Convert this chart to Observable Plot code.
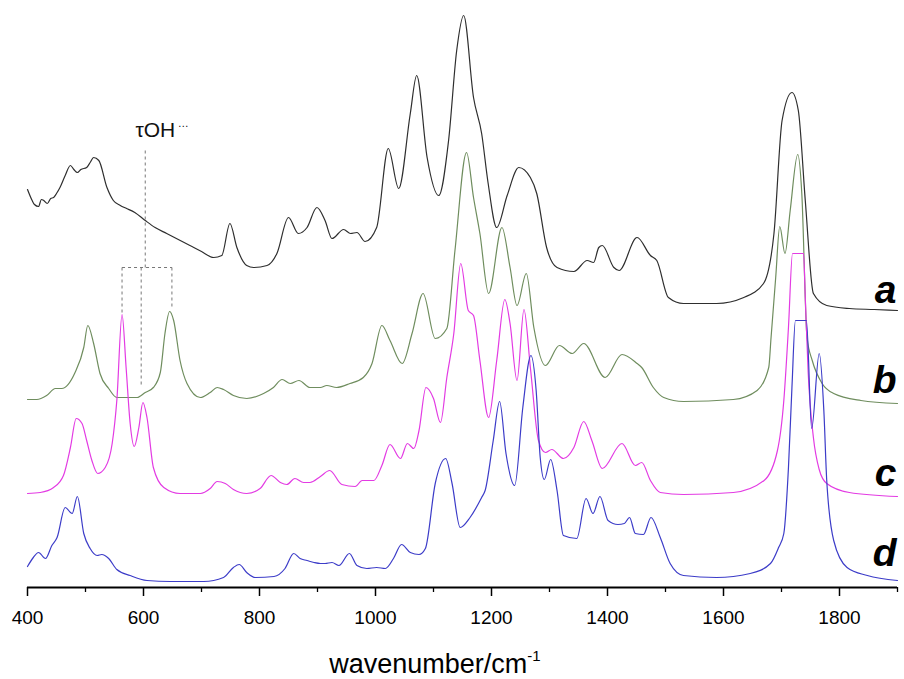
<!DOCTYPE html>
<html><head><meta charset="utf-8">
<script src="https://cdn.jsdelivr.net/npm/d3@7"></script>
<script src="https://cdn.jsdelivr.net/npm/@observablehq/plot@0.6"></script>
<style>body{margin:0;background:#fff;} #chart{width:904px;height:679px;}</style>
</head><body><div id="chart"></div>
<script>
// Wavenumber (cm-1) and stacked intensity (arb. units)
const specA = [[400,398],[408,387],[412,383],[419,381],[424,388],[428,387],[434,384],[440,389],[445,390],[450,394],[456,400],[465,412],[474,422],[480,418],[486,415],[492,418],[502,420],[508,425],[514,430],[523,427],[537,400],[548,387],[560,382],[571,379],[585,375],[603,367],[620,360],[640,354],[660,348],[680,342],[700,336],[721,330],[735,332],[749,364],[761,340],[778,322],[790,320],[813,322],[830,334],[850,370],[867,354],[882,360],[899,380],[913,367],[925,349],[945,358],[957,354],[968,355],[982,346],[1002,360],[1022,439],[1040,399],[1060,474],[1071,512],[1089,430],[1109,392],[1126,447],[1140,537],[1152,572],[1169,490],[1183,454],[1194,405],[1209,360],[1227,392],[1247,420],[1267,410],[1278,394],[1295,340],[1313,320],[1342,316],[1365,327],[1376,325],[1385,340],[1391,342],[1411,320],[1420,317],[1451,350],[1474,332],[1485,327],[1505,290],[1531,284],[1588,284],[1635,290],[1669,304],[1687,354],[1701,467],[1718,495],[1729,477],[1741,387],[1755,294],[1778,282],[1817,279],[1860,278],[1900,277]];
const specB = [[400,188],[416,188],[433,192],[448,199],[459,199],[482,215],[497,240],[504,262],[514,244],[525,214],[540,199],[554,190],[577,190],[589,190],[603,195],[617,200],[629,215],[637,254],[645,276],[652,267],[663,227],[675,204],[698,190],[715,195],[727,200],[738,198],[755,192],[778,189],[807,194],[824,200],[839,208],[853,204],[868,207],[887,200],[905,200],[916,202],[933,200],[956,204],[979,210],[994,224],[1011,262],[1025,247],[1046,224],[1063,254],[1082,294],[1103,249],[1123,259],[1137,337],[1157,435],[1169,390],[1180,354],[1195,294],[1218,360],[1232,320],[1244,282],[1260,314],[1273,260],[1293,222],[1317,242],[1339,234],[1359,244],[1396,210],[1425,233],[1451,224],[1459,220],[1479,200],[1497,190],[1531,186],[1617,188],[1658,197],[1678,220],[1682,250],[1690,310],[1697,361],[1706,334],[1715,377],[1728,433],[1735,394],[1744,250],[1753,227],[1770,204],[1790,194],[1837,187],[1900,184]];
const specC = [[400,94],[422,95],[445,100],[462,112],[474,140],[484,169],[494,164],[502,147],[511,127],[521,114],[534,120],[546,144],[554,187],[563,273],[570,220],[577,164],[584,141],[592,160],[599,185],[606,170],[617,120],[635,100],[663,94],[698,94],[715,99],[727,106],[741,104],[755,98],[778,94],[801,99],[820,112],[836,105],[847,103],[861,109],[876,105],[887,105],[905,111],[921,117],[942,103],[965,101],[977,107],[997,107],[1011,122],[1025,143],[1043,129],[1055,144],[1066,139],[1075,157],[1087,200],[1100,189],[1112,165],[1123,210],[1135,254],[1147,324],[1160,277],[1169,272],[1180,227],[1195,170],[1209,227],[1223,288],[1232,264],[1244,207],[1256,278],[1267,220],[1281,147],[1293,135],[1304,138],[1324,129],[1342,140],[1359,166],[1373,147],[1391,119],[1425,144],[1448,122],[1459,125],[1474,107],[1491,95],[1531,93],[1617,95],[1670,107],[1693,137],[1704,187],[1712,260],[1719,334],[1738,334],[1741,290],[1746,215],[1755,150],[1765,118],[1778,104],[1817,95],[1900,91]];
const specD = [[400,21],[410,30],[419,35],[431,29],[442,42],[451,50],[465,80],[477,74],[486,91],[497,54],[508,39],[520,32],[528,33],[540,29],[554,18],[577,12],[606,7],[646,6],[704,6],[738,10],[755,20],[765,23],[778,15],[793,10],[825,11],[844,19],[859,34],[870,29],[882,27],[894,25],[905,24],[913,24],[925,25],[937,22],[955,34],[968,22],[985,19],[1002,20],[1017,19],[1031,29],[1045,43],[1060,35],[1075,33],[1086,39],[1103,104],[1121,129],[1132,104],[1146,60],[1163,70],[1183,90],[1189,97],[1203,147],[1214,186],[1225,134],[1240,102],[1254,180],[1268,232],[1277,197],[1284,130],[1291,108],[1302,128],[1313,97],[1324,52],[1347,49],[1363,89],[1375,74],[1387,91],[1401,67],[1418,63],[1429,64],[1438,70],[1448,54],[1462,53],[1475,70],[1491,50],[1508,24],[1531,12],[1588,10],[1646,14],[1681,24],[1695,40],[1704,54],[1712,120],[1718,200],[1724,267],[1743,267],[1752,159],[1765,234],[1773,177],[1778,107],[1790,47],[1813,20],[1848,12],[1900,7]];

const seriesNames = ["a", "b", "c", "d"];
const seriesColors = ["#2e2e2e", "#6f8d5e", "#e33be3", "#3c3cc8"];
const labelY = [285, 195, 102, 22];
const majorTicks = [400, 600, 800, 1000, 1200, 1400, 1600, 1800];
const minorTicks = [500, 700, 900, 1100, 1300, 1500, 1700, 1900];
// τOH annotation bracket (x1, y1, x2, y2 in data units)
const tauLinks = [[603,437,603,320],[563,320,649,320],[563,320,563,275],[649,320,649,281],[596,320,596,202]];
const tauLabel = {x: 586, y: 451, text: "τOH", dotsX: 659, dotsY: 461};

const specs = [specA, specB, specC, specD];
const rows = specs.flatMap((s, i) => s.map(([x, y]) => ({series: seriesNames[i], x, y})));

const plot = Plot.plot({
  width: 904, height: 679,
  marginTop: 0, marginLeft: 27, marginRight: 7, marginBottom: 92,
  x: {domain: [400, 1900]},
  y: {domain: [0, 587], axis: null},
  style: {fontFamily: "'Liberation Sans', Arial, sans-serif", background: "#fff", color: "#000"},
  marks: [
    Plot.axisX({ticks: minorTicks, tickSize: 5, tickFormat: () => "", strokeWidth: 1.3, label: null}),
    Plot.axisX({ticks: majorTicks, tickSize: 9, tickPadding: 14, fontSize: 19, strokeWidth: 1.5, label: null, tickFormat: d => String(d)}),
    Plot.ruleY([0], {strokeWidth: 2, stroke: "#000"}),
    ...seriesNames.map((name, i) => Plot.line(rows.filter(r => r.series === name), {
      x: "x", y: "y", stroke: seriesColors[i], strokeWidth: 1.2, curve: "monotone-x"
    })),
    Plot.link(tauLinks, {x1: d => d[0], y1: d => d[1], x2: d => d[2], y2: d => d[3], stroke: "#777", strokeWidth: 1, strokeDasharray: "3,3"}),
    Plot.text([tauLabel], {x: "x", y: "y", text: "text", textAnchor: "start", lineAnchor: "bottom", fontSize: 21, fill: "#111"}),
    Plot.text([tauLabel], {x: "dotsX", y: "dotsY", text: () => "…", textAnchor: "start", lineAnchor: "bottom", fontSize: 11, fill: "#111"}),
    Plot.text(seriesNames, {x: () => 1900, y: (d, i) => labelY[i], text: d => d, textAnchor: "end", lineAnchor: "bottom", fontSize: 39, fontWeight: "bold", fontStyle: "italic", fill: "#000", dx: -1})
  ]
});

const svg = d3.select(plot);
const lab = svg.append("text")
  .attr("x", 435).attr("y", 673)
  .attr("text-anchor", "middle")
  .attr("font-size", 27)
  .attr("fill", "#000")
  .text("wavenumber/cm");
lab.append("tspan").attr("font-size", 15).attr("dy", -12).text("-1");

document.getElementById("chart").appendChild(plot);
</script>
</body></html>
